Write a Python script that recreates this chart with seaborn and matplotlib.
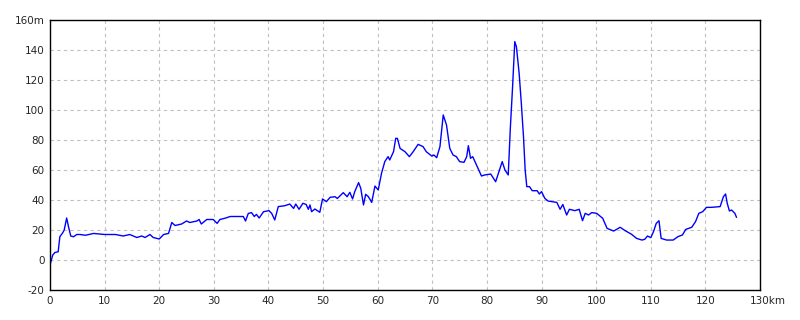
import matplotlib
matplotlib.use("Agg")
import matplotlib.pyplot as plt
import matplotlib.transforms as mtransforms
import seaborn as sns
import pandas as pd

distance_km = [
    0.0, 0.5, 0.9, 1.5, 1.8, 2.3, 2.6, 3.05, 3.4, 3.8, 4.3, 4.9, 5.5, 6.5, 8.0, 10.0,
    12.0, 13.4, 14.6, 15.9, 16.8, 17.4, 18.3, 18.9, 20.0, 20.8, 21.7, 22.3, 22.9, 24.1,
    25.0, 25.6, 26.9, 27.3, 27.7, 28.7, 29.9, 30.6, 31.1, 32.0, 33.0, 34.5, 35.4, 35.8,
    36.3, 36.9, 37.4, 37.8, 38.3, 39.1, 40.1, 40.6, 41.15, 41.8, 43.0, 43.9, 44.6, 45.0,
    45.6, 46.3, 46.9, 47.3, 47.6, 47.9, 48.5, 49.4, 49.9, 50.6, 51.3, 52.2, 52.6, 53.7,
    54.4, 54.9, 55.4, 55.8, 56.5, 56.9, 57.4, 57.8, 58.3, 58.9, 59.5, 60.1, 60.7, 61.3,
    61.9, 62.2, 62.9, 63.3, 63.6, 64.1, 65.0, 65.8, 66.5, 67.4, 68.3, 68.9, 69.9, 70.3,
    70.8, 71.4, 72.0, 72.6, 73.2, 73.8, 74.4, 75.0, 75.8, 76.3, 76.6, 77.0, 77.4, 78.1,
    79.0, 79.6, 80.7, 81.6, 82.2, 82.8, 83.3, 83.9, 84.3, 84.7, 85.1, 85.4, 85.9, 86.3,
    86.7, 87.0, 87.3, 87.8, 88.3, 89.2, 89.6, 90.0, 90.6, 91.2, 92.8, 93.4, 93.9, 94.6,
    95.1, 96.1, 96.9, 97.5, 98.0, 98.6, 99.2, 100.1, 101.2, 102.0, 103.2, 104.4, 105.3,
    106.5, 107.4, 108.4, 108.9, 109.4, 110.0, 110.5, 111.0, 111.5, 111.9, 112.9, 114.1,
    115.0, 115.8, 116.4, 117.5, 118.2, 118.8, 119.5, 120.2, 121.1, 122.7, 123.3, 123.7,
    124.0, 124.4, 124.8, 125.4, 125.7,
]
elevation_m = [
    -3.3, 3.3, 5.0, 5.5, 15.5, 18.0, 20.0, 28.0, 22.0, 16.0, 15.5, 17.0, 17.0, 16.5, 17.7, 17.0,
    17.0, 16.0, 17.0, 15.0, 16.0, 15.0, 17.0, 15.0, 14.0, 17.0, 17.7, 25.0, 23.0, 24.0,
    26.0, 25.0, 26.0, 27.0, 24.0, 27.0, 27.0, 24.4, 27.0, 27.8, 29.0, 29.0, 29.0, 26.0,
    31.0, 31.6, 29.0, 30.4, 28.0, 32.2, 32.9, 31.0, 26.7, 35.6, 36.2, 37.3, 34.4, 37.3,
    33.8, 37.8, 37.0, 33.8, 36.7, 32.2, 34.0, 31.8, 40.7, 38.9, 41.8, 42.2, 41.0, 44.9,
    42.2, 45.1, 40.7, 45.6, 51.6, 47.8, 36.7, 43.8, 42.2, 38.4, 49.3, 46.7, 57.8, 65.6,
    68.9, 66.7, 72.2, 81.1, 81.1, 74.4, 72.2, 68.9, 72.2, 77.1, 75.6, 72.2, 69.3, 70.0,
    68.2, 75.6, 96.7, 90.0, 74.4, 70.0, 68.9, 65.6, 65.1, 68.9, 76.2, 67.8, 68.9, 63.3,
    56.0, 56.7, 57.3, 52.2, 58.9, 65.6, 60.0, 56.7, 88.9, 115.6, 145.6, 142.2, 124.4, 104.4,
    82.0, 60.0, 48.9, 48.9, 46.2, 46.2, 44.0, 45.6, 41.1, 39.3, 38.4, 33.8, 37.0, 30.0,
    33.8, 32.9, 33.8, 26.2, 31.1, 30.0, 31.6, 31.1, 27.8, 21.1, 19.3, 21.8, 19.6,
    17.1, 14.4, 13.3, 13.8, 16.0, 14.9, 18.9, 24.4, 26.2, 14.4, 13.3, 13.3,
    15.6, 16.7, 20.4, 21.8, 25.6, 31.1, 32.2, 35.1, 35.1, 35.6, 42.2, 44.0,
    37.8, 32.7, 33.3, 31.1, 28.4,
]

x_ticks = list(range(0, 131, 10))
x_labels = [str(v) for v in x_ticks[:-1]] + ["130km"]
y_ticks = list(range(-20, 161, 20))
y_labels = [str(v) for v in y_ticks[:-1]] + ["160m"]

sns.set_style("white")
plt.rcParams['font.family'] = ['DejaVu Sans']

df = pd.DataFrame({"km": distance_km, "m": elevation_m})

fig = plt.figure(figsize=(8, 3.2), dpi=100)
ax = fig.add_axes([50/800, 30/320, 710/800, 270/320])
sns.lineplot(data=df, x="km", y="m", ax=ax, color="#0000ff", linewidth=1.0, sort=False)

ax.set_xlim(0, 130)
ax.set_ylim(-20, 160)
ax.set_xticks(x_ticks)
ax.set_xticklabels(x_labels, fontsize=7.5)
ax.set_yticks(y_ticks)
ax.set_yticklabels(y_labels, fontsize=7.5)
ax.tick_params(length=0, pad=4)
ax.set_xlabel("")
ax.set_ylabel("")
ax.grid(True, linestyle=(0, (3, 3)), color="#c0c0c0", linewidth=0.8)
for s in ax.spines.values():
    s.set_color("black")
    s.set_linewidth(1.0)
    s.set_visible(True)

# shift the "130km" label slightly to the right of its tick
lbl = ax.get_xticklabels()[-1]
lbl.set_transform(lbl.get_transform() + mtransforms.ScaledTranslation(8/100, 0, fig.dpi_scale_trans))

fig.savefig("out.png", dpi=100, facecolor="white")
